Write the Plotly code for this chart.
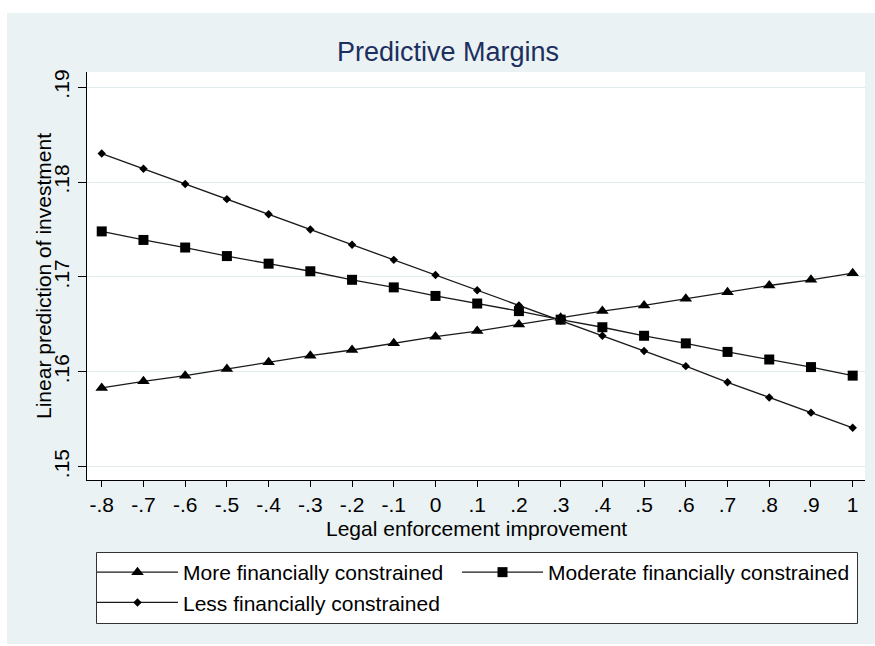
import plotly.graph_objects as go

# Legal enforcement improvement values (x) and predicted investment by group
enforcement = [-0.8, -0.7, -0.6, -0.5, -0.4, -0.3, -0.2, -0.1, 0.0, 0.1,
               0.2, 0.3, 0.4, 0.5, 0.6, 0.7, 0.8, 0.9, 1.0]

more_constrained = [0.1583, 0.1590, 0.1596, 0.1603, 0.1610, 0.1617, 0.1623,
                    0.1630, 0.1637, 0.1643, 0.1650, 0.1657, 0.1664, 0.1670,
                    0.1677, 0.1684, 0.1691, 0.1697, 0.1704]

moderate_constrained = [0.1748, 0.1739, 0.1731, 0.1722, 0.1714, 0.1706, 0.1697,
                        0.1689, 0.1680, 0.1672, 0.1664, 0.1655, 0.1647, 0.1638,
                        0.1630, 0.1621, 0.1613, 0.1605, 0.1596]

less_constrained = [0.1830, 0.1814, 0.1798, 0.1782, 0.1766, 0.1750, 0.1734,
                    0.1718, 0.1702, 0.1686, 0.1670, 0.1654, 0.1638, 0.1622,
                    0.1606, 0.1589, 0.1573, 0.1557, 0.1541]

x_tick_vals = enforcement
x_tick_text = ["-.8", "-.7", "-.6", "-.5", "-.4", "-.3", "-.2", "-.1", "0", ".1",
               ".2", ".3", ".4", ".5", ".6", ".7", ".8", ".9", "1"]
y_tick_vals = [0.15, 0.16, 0.17, 0.18, 0.19]
y_tick_text = [".15", ".16", ".17", ".18", ".19"]

FONT = "Liberation Sans, Arial, sans-serif"
BG = "#eaf2f3"
LINE = "#1a1a1a"

W, H = 875, 646
L, R, T, B = 87, 10, 72, 166
PW, PH = W - L - R, H - T - B


def px_x(px):
    return (px - L) / PW


def px_y(py):
    return (H - B - py) / PH


fig = go.Figure()

# (name, values, marker symbol, marker size, legend column)
series = [
    ("More financially constrained", more_constrained, "triangle-up", 11, "legend"),
    ("Moderate financially constrained", moderate_constrained, "square", 10, "legend2"),
    ("Less financially constrained", less_constrained, "diamond", 6.5, "legend"),
]
for name, vals, sym, size, leg in series:
    fig.add_trace(go.Scatter(
        x=enforcement, y=vals, name=name, mode="lines+markers",
        legend=leg,
        line=dict(color=LINE, width=1.3),
        marker=dict(symbol=sym, size=size, color="black",
                    line=dict(width=0)),
    ))

legend_common = dict(
    orientation="v",
    xref="container", yref="container",
    y=1 - 552 / H, xanchor="left", yanchor="top",
    bgcolor="rgba(0,0,0,0)", borderwidth=0,
    font=dict(family=FONT, size=21, color="black"),
    itemwidth=81,
    tracegroupgap=0,
)

fig.update_layout(
    width=W, height=H,
    margin=dict(l=L, r=R, t=T, b=B, pad=0, autoexpand=False),
    paper_bgcolor="white",
    plot_bgcolor="white",
    font=dict(family=FONT, size=21, color="black"),
    showlegend=True,
    legend=dict(x=92 / W, **legend_common),
    legend2=dict(x=457 / W, **legend_common),
    xaxis=dict(
        range=[-0.8353, 1.0295],
        tickvals=x_tick_vals, ticktext=x_tick_text,
        ticks="outside", ticklen=6, tickwidth=1.2, tickcolor="black",
        showline=True, linecolor="black", linewidth=1.3,
        showgrid=False, zeroline=False,
        tickfont=dict(size=21, color="black"),
        automargin=False,
    ),
    yaxis=dict(
        range=[0.1486, 0.1916],
        tickvals=y_tick_vals, ticktext=y_tick_text,
        tickangle=-90,
        ticks="outside", ticklen=8, tickwidth=1.2, tickcolor="black",
        showline=True, linecolor="black", linewidth=1.3,
        showgrid=True, gridcolor="#e2ebee", gridwidth=1,
        zeroline=False,
        tickfont=dict(size=21, color="black"),
        automargin=False,
    ),
    shapes=[
        # light graph region behind the plot area
        dict(type="rect", xref="paper", yref="paper", layer="below",
             x0=px_x(7), x1=px_x(875), y0=px_y(644), y1=px_y(13),
             fillcolor=BG, line=dict(width=0)),
        # white plotting area
        dict(type="rect", xref="paper", yref="paper", layer="below",
             x0=0, x1=1, y0=0, y1=1,
             fillcolor="white", line=dict(width=0)),
        # frame around the legend keys
        dict(type="rect", xref="paper", yref="paper", layer="below",
             x0=px_x(96.5), x1=px_x(857.5), y0=px_y(623.5), y1=px_y(552.5),
             fillcolor="white", line=dict(color="#333333", width=1)),
    ],
    annotations=[
        dict(text="Predictive Margins", xref="paper", yref="paper",
             x=px_x(447.5), y=px_y(52), xanchor="center", yanchor="middle",
             showarrow=False,
             font=dict(family=FONT, size=27, color="#1c2f5f")),
        dict(text="Legal enforcement improvement", xref="paper", yref="paper",
             x=0.5, y=px_y(528), xanchor="center", yanchor="middle",
             showarrow=False, font=dict(family=FONT, size=21, color="black")),
        dict(text="Linear prediction of investment", xref="paper", yref="paper",
             x=px_x(43), y=0.5, xanchor="center", yanchor="middle",
             textangle=-90, showarrow=False,
             font=dict(family=FONT, size=21, color="black")),
    ],
)

fig.write_html("out.html")
